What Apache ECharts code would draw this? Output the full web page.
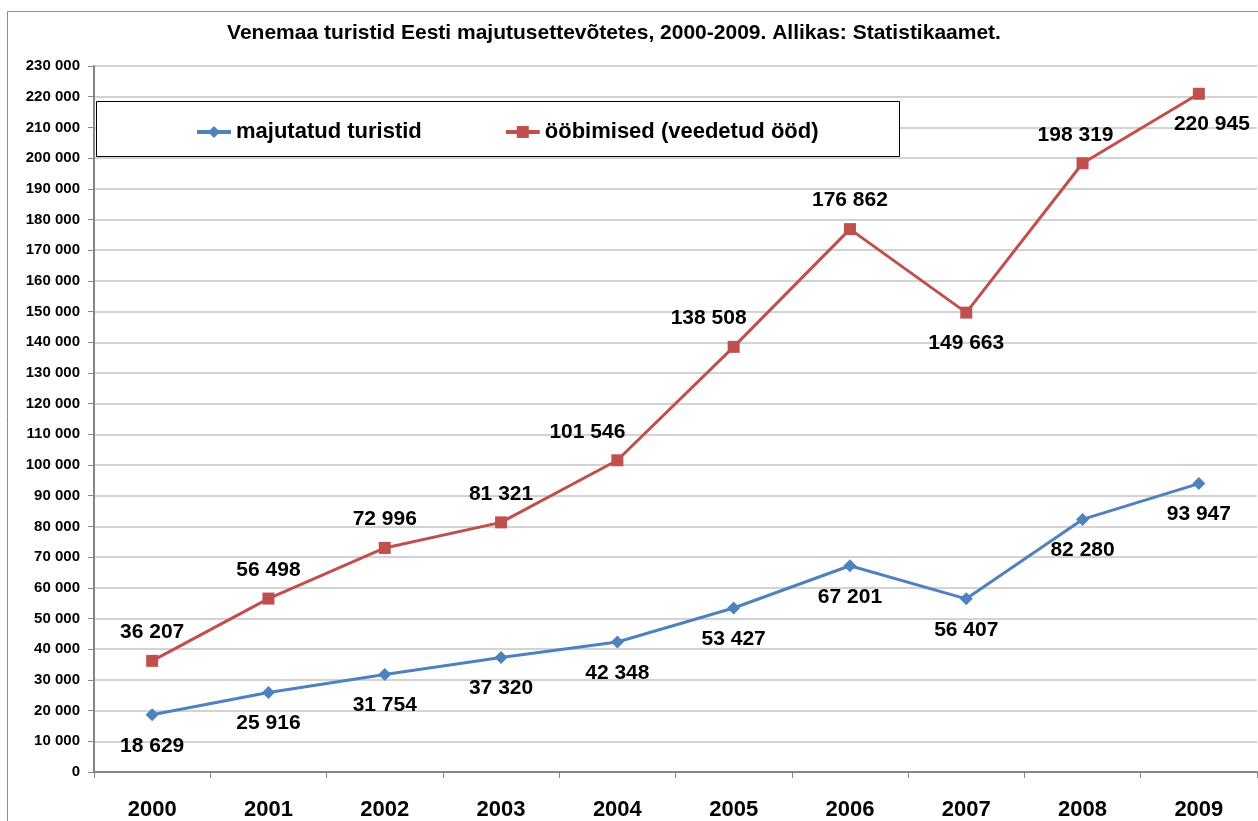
<!DOCTYPE html>
<html>
<head>
<meta charset="utf-8">
<script src="https://cdn.jsdelivr.net/npm/echarts@6/dist/echarts.min.js"></script>
<style>
  html, body { margin: 0; padding: 0; background: #fff; }
  #chart { width: 1258px; height: 821px; }
</style>
</head>
<body>
<div id="chart"></div>
<script>
// andmed
var years = ['2000', '2001', '2002', '2003', '2004', '2005', '2006', '2007', '2008', '2009'];
var turistid = [18629, 25916, 31754, 37320, 42348, 53427, 67201, 56407, 82280, 93947];
var oobimised = [36207, 56498, 72996, 81321, 101546, 138508, 176862, 149663, 198319, 220945];
var seriesNames = ['majutatud turistid', 'ööbimised (veedetud ööd)'];

var FONT = '"Liberation Sans", Arial, sans-serif';

// tuhandete eraldaja tühikuga
function fmt(v) {
  return String(v).replace(/\B(?=(\d{3})+(?!\d))/g, ' ');
}

var labelStyle = {
  show: true,
  fontFamily: FONT,
  fontWeight: 'bold',
  fontSize: 21,
  color: '#000',
  formatter: function (p) { return fmt(p.value); }
};

// punased sildid: 2007 ja 2009 all, muud üleval; mõni nihutatud nagu originaalis
var redShift = { 4: -30, 5: -25, 8: -7, 9: 13 };
var redData = oobimised.map(function (v, i) {
  var below = (i === 7 || i === 9);
  return {
    value: v,
    label: {
      position: below ? 'bottom' : 'top',
      distance: below ? 14 : 12,
      offset: [redShift[i] || 0, 0]
    }
  };
});

var myChart = echarts.init(document.getElementById('chart'));

var options = {
  animation: false,
  backgroundColor: '#fff',
  title: {
    text: 'Venemaa turistid Eesti majutusettevõtetes, 2000-2009. Allikas: Statistikaamet.',
    left: 609,
    textAlign: 'center',
    top: 18,
    textStyle: { fontFamily: FONT, fontWeight: 'bold', fontSize: 21, color: '#000' }
  },
  graphic: [
    {
      type: 'rect',
      shape: { x: 7.5, y: 11.5, width: 1270, height: 830 },
      style: { fill: 'none', stroke: '#8c8c8c', lineWidth: 1 },
      z: -1
    },
    {
      type: 'rect',
      shape: { x: 96.5, y: 101.5, width: 803, height: 55 },
      style: { fill: '#fff', stroke: '#000', lineWidth: 1 },
      z: 5
    }
  ],
  legend: {
    data: seriesNames,
    left: 190,
    top: 116,
    z: 6,
    itemWidth: 34,
    itemHeight: 15,
    itemGap: 82,
    lineStyle: { width: 4 },
    textStyle: { fontFamily: FONT, fontWeight: 'bold', fontSize: 22, color: '#000' }
  },
  grid: {
    left: 94,
    right: 1,
    top: 66,
    bottom: 49,
    containLabel: false
  },
  xAxis: {
    type: 'category',
    boundaryGap: true,
    data: years,
    axisLine: { lineStyle: { color: '#868686', width: 2 } },
    axisTick: { show: true, length: 6, lineStyle: { color: '#868686', width: 1 } },
    axisLabel: { margin: 27, fontFamily: FONT, fontWeight: 'bold', fontSize: 22, color: '#000' }
  },
  yAxis: {
    type: 'value',
    min: 0,
    max: 230000,
    interval: 10000,
    axisLine: { show: true, lineStyle: { color: '#868686', width: 2 } },
    axisTick: { show: true, length: 6, lineStyle: { color: '#868686', width: 1 } },
    splitLine: { lineStyle: { color: '#c4c4c4', width: 1.5 } },
    axisLabel: {
      margin: 14,
      fontFamily: FONT,
      fontWeight: 'bold',
      fontSize: 15,
      color: '#000',
      formatter: function (v) { return fmt(v); }
    }
  },
  series: [
    {
      name: seriesNames[0],
      type: 'line',
      data: turistid,
      symbol: 'diamond',
      symbolSize: 13,
      itemStyle: { color: '#4F81BD' },
      lineStyle: { color: '#4F81BD', width: 3 },
      label: Object.assign({}, labelStyle, { position: 'bottom', distance: 14 })
    },
    {
      name: seriesNames[1],
      type: 'line',
      data: redData,
      symbol: 'rect',
      symbolSize: 12,
      itemStyle: { color: '#C0504D' },
      lineStyle: { color: '#C0504D', width: 3 },
      label: labelStyle
    }
  ]
};

myChart.setOption(options);
</script>
</body>
</html>
